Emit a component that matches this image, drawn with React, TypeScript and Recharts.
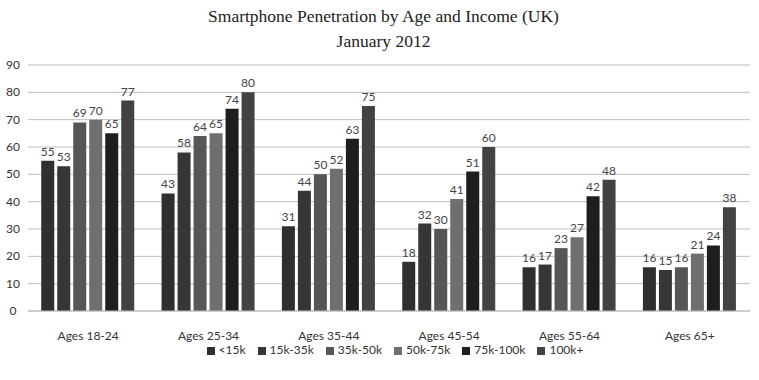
import { BarChart, Bar, XAxis, YAxis, CartesianGrid, Legend, LabelList } from "recharts";

const ageGroups = ["Ages 18-24", "Ages 25-34", "Ages 35-44", "Ages 45-54", "Ages 55-64", "Ages 65+"];
const incomeBands = ["<15k", "15k-35k", "35k-50k", "50k-75k", "75k-100k", "100k+"];

const under15k = [55, 43, 31, 18, 16, 16];
const from15to35k = [53, 58, 44, 32, 17, 15];
const from35to50k = [69, 64, 50, 30, 23, 16];
const from50to75k = [70, 65, 52, 41, 27, 21];
const from75to100k = [65, 74, 63, 51, 42, 24];
const over100k = [77, 80, 75, 60, 48, 38];

const yTicks = [0, 10, 20, 30, 40, 50, 60, 70, 80, 90];

const SERIES = [under15k, from15to35k, from35to50k, from50to75k, from75to100k, over100k];
const COLORS = ["#2f2f2f", "#363636", "#565656", "#6f6f6f", "#1e1e1e", "#424242"];

const data = ageGroups.map((age, i) => {
  const row: Record<string, string | number> = { age };
  incomeBands.forEach((band, j) => {
    row[band] = SERIES[j][i];
  });
  return row;
});

const font = "Lato, 'Open Sans', sans-serif";

const YTick = (props: any) => {
  const { y, payload } = props;
  return (
    <text x={13} y={y} dy={4} textAnchor="middle" fontSize={12} fill="#333" fontFamily={font}>
      {payload.value}
    </text>
  );
};

export default function App() {
  return (
    <div style={{ position: "fixed", left: 0, top: 0, width: 759, height: 380, background: "#fff" }}>
      <div
        style={{
          position: "absolute",
          top: 4,
          left: 4,
          width: 759,
          textAlign: "center",
          fontFamily: "'Liberation Serif', serif",
          fontSize: 17.5,
          color: "#222",
          lineHeight: "25px",
        }}
      >
        <div>Smartphone Penetration by Age and Income (UK)</div>
        <div>January 2012</div>
      </div>
      <BarChart
        width={759}
        height={380}
        data={data}
        margin={{ top: 65, right: 9, left: 0, bottom: 24 }}
        barCategoryGap="11%"
        barGap={3}
      >
        <CartesianGrid vertical={false} stroke="#bdbdbd" />
        <YAxis
          domain={[0, 90]}
          ticks={yTicks}
          axisLine={false}
          tickLine={false}
          width={28}
          tick={<YTick />}
          interval={0}
        />
        <XAxis
          dataKey="age"
          axisLine={{ stroke: "#bdbdbd" }}
          tickLine={false}
          height={30}
          tickMargin={14}
          tick={{ fontSize: 12, fill: "#333", fontFamily: font }}
        />
        <Legend
          verticalAlign="bottom"
          iconType="square"
          iconSize={8}
          itemSorter={(item: any) => incomeBands.indexOf(item.value)}
          wrapperStyle={{ fontSize: 12, fontFamily: font, color: "#333", top: 342, paddingLeft: 26 }}
          formatter={(v: string) => <span style={{ color: "#333", marginRight: 2 }}>{v}</span>}
        />
        {incomeBands.map((band, j) => (
          <Bar key={band} dataKey={band} fill={COLORS[j]} isAnimationActive={false}>
            <LabelList dataKey={band} position="top" offset={5} fontSize={12} fill="#444" fontFamily={font} />
          </Bar>
        ))}
      </BarChart>
    </div>
  );
}
